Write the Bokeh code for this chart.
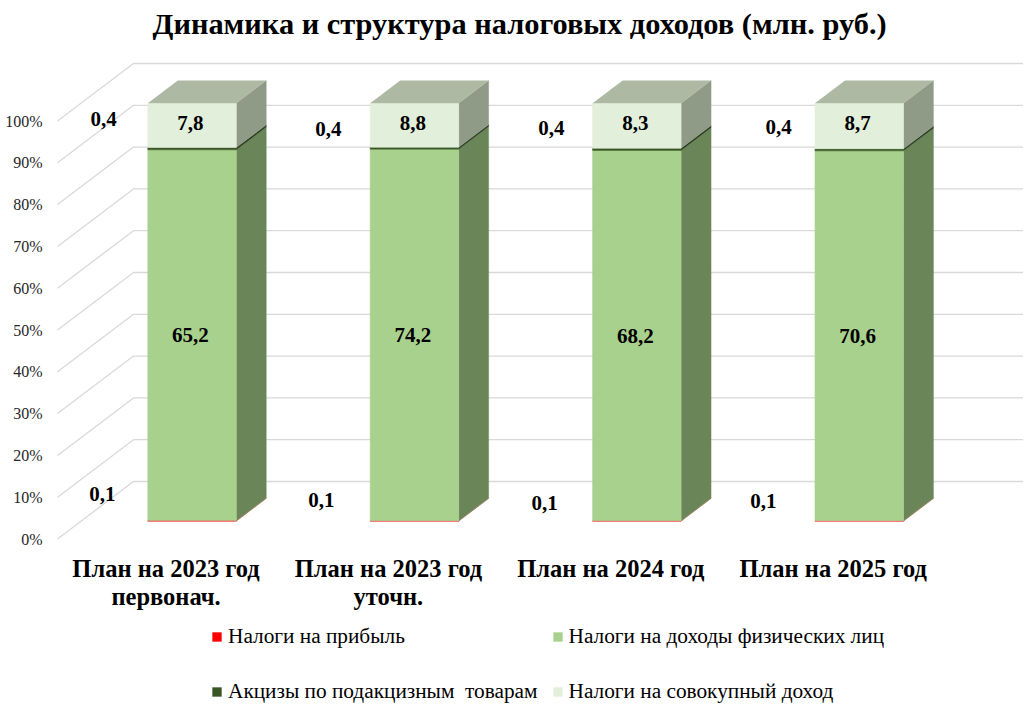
from bokeh.plotting import figure
from bokeh.models import Range1d, FixedTicker, PrintfTickFormatter, Legend, LegendItem, Title
from bokeh.core.properties import value
from bokeh.embed import file_html
from bokeh.resources import INLINE

# ---- data ----
categories = ["План на 2023 год\nпервонач.", "План на 2023 год\nуточн.", "План на 2024 год", "План на 2025 год"]
profit_tax = [0.1, 0.1, 0.1, 0.1]
income_tax = [65.2, 74.2, 68.2, 70.6]
excise = [0.4, 0.4, 0.4, 0.4]
total_income = [7.8, 8.8, 8.3, 8.7]
series_names = ["Налоги на прибыль", "Налоги на доходы физических лиц",
                "Акцизы по подакцизным  товарам", "Налоги на совокупный доход"]
title_text = "Динамика и структура налоговых доходов (млн. руб.)"
y_ticks = [0, 10, 20, 30, 40, 50, 60, 70, 80, 90, 100]

# ---- styles ----
FRONT = ["#FF0000", "#A9D18E", "#385723", "#E2EFDA"]
SIDE = ["#A85A3A", "#6A8659", "#2C4020", "#8F9A87"]
TOP = "#AEB9A4"
GRID = "#D9D9D9"
SERIF = "Liberation Serif"

# ---- scales: slot units horizontally, percent vertically ----
W, H = 1027, 710
PAGE_OFF = 1                    # the figure sits this many pixels above/left of the window
F_L, F_R, F_T, F_B = 48, 1023, 45, 709
X0, SLOT = 57.0, 222.4          # pixel of first floor corner / pixels per category
Y0, PCT = 538.5, 4.18           # pixel of 0 % on front floor edge / pixels per percent
DEPTH_X = 76.0 / SLOT           # wall depth, in slot units
DEPTH_Y = 57.5 / PCT            # wall depth, in percent
BAR_U0, BAR_U1 = 0.30, 0.698    # bar inside its slot (gap 150 %)
BAR_D0, BAR_D1 = 0.31, 0.705    # bar inside the floor depth


def proj(u, d, pct):
    return u + DEPTH_X * d, pct + DEPTH_Y * d


p = figure(width=W, height=H, output_backend="svg", toolbar_location=None,
           frame_width=F_R - F_L, frame_height=F_B - F_T,
           x_range=Range1d((F_L - X0) / SLOT, (F_R - X0) / SLOT),
           y_range=Range1d((Y0 - F_B) / PCT, (Y0 - F_T) / PCT),
           min_border_left=F_L + PAGE_OFF, min_border_right=W - F_R - PAGE_OFF, min_border_top=F_T + PAGE_OFF,
           min_border_bottom=H - F_B - PAGE_OFF, outline_line_color=None,
           background_fill_color="white", border_fill_color="white",
           margin=(-PAGE_OFF, 0, 0, -PAGE_OFF))
p.xgrid.visible = False
p.ygrid.visible = False

p.title = Title(text=title_text, align="left", offset=104, text_font=SERIF,
                text_font_style="bold", text_font_size="30.4px", text_color="#000000",
                standoff=9)

# walls
n = len(categories)
gx, gy = [], []
for t in y_ticks:
    a = proj(0, 0, t)
    b = proj(0, 1, t)
    c = proj(n, 1, t)
    gx.append([a[0], b[0], c[0]])
    gy.append([a[1], b[1], c[1]])
p.multi_line(gx, gy, line_color=GRID, line_width=1.3)

# stacked bars in 100 %
stack = [profit_tax, income_tax, excise, total_income]
totals = [sum(s[i] for s in stack) for i in range(n)]
fronts = []
for k, s in enumerate(stack):
    fx, fy, sx, sy = [], [], [], []
    for i in range(n):
        lo = sum(stack[j][i] for j in range(k)) / totals[i] * 100
        hi = lo + s[i] / totals[i] * 100
        pts = [proj(i + BAR_U0, BAR_D0, lo), proj(i + BAR_U1, BAR_D0, lo),
               proj(i + BAR_U1, BAR_D0, hi), proj(i + BAR_U0, BAR_D0, hi)]
        fx.append([q[0] for q in pts])
        fy.append([q[1] for q in pts])
        pts = [proj(i + BAR_U1, BAR_D0, lo), proj(i + BAR_U1, BAR_D1, lo),
               proj(i + BAR_U1, BAR_D1, hi), proj(i + BAR_U1, BAR_D0, hi)]
        sx.append([q[0] for q in pts])
        sy.append([q[1] for q in pts])
    p.patches(sx, sy, fill_color=SIDE[k], line_color=SIDE[k], line_width=0.3)
    fronts.append(p.patches(fx, fy, fill_color=FRONT[k], line_color=FRONT[k], line_width=0.5))

tx, ty = [], []
for i in range(n):
    pts = [proj(i + BAR_U0, BAR_D0, 100), proj(i + BAR_U1, BAR_D0, 100),
           proj(i + BAR_U1, BAR_D1, 100), proj(i + BAR_U0, BAR_D1, 100)]
    tx.append([q[0] for q in pts])
    ty.append([q[1] for q in pts])
p.patches(tx, ty, fill_color=TOP, line_color=None)


def fmt(v):
    return f"{v:.1f}".replace(".", ",")


# data labels
lab_x, lab_y, lab_t = [], [], []
for i in range(n):
    cu = i + 0.492
    lo_pit = profit_tax[i] / totals[i] * 100
    hi_pit = lo_pit + income_tax[i] / totals[i] * 100
    lo_top = hi_pit + excise[i] / totals[i] * 100
    x, y = proj(cu, BAR_D0, (lo_pit + hi_pit) / 2)
    lab_x.append(x); lab_y.append(y); lab_t.append(fmt(income_tax[i]))
    x, y = proj(cu, BAR_D0, (lo_top + 100) / 2 + 0.6)
    lab_x.append(x); lab_y.append(y); lab_t.append(fmt(total_income[i]))
p.text(lab_x, lab_y, text=lab_t, text_font=value(SERIF), text_font_style="bold",
       text_font_size="21px", text_align="center", text_baseline="middle", text_color="#000000")

# hand-placed small labels (offset from the slot start, in slot units / percent)
small_off_excise = [(0.207, 100.5), (0.218, 98.2), (0.221, 98.4), (0.242, 98.6)]
small_off_profit = [(0.202, 10.8), (0.187, 9.4), (0.190, 8.7), (0.174, 9.2)]
sx_, sy_, st_ = [], [], []
for i in range(n):
    sx_.append(i + small_off_excise[i][0]); sy_.append(small_off_excise[i][1]); st_.append(fmt(excise[i]))
    sx_.append(i + small_off_profit[i][0]); sy_.append(small_off_profit[i][1]); st_.append(fmt(profit_tax[i]))
p.text(sx_, sy_, text=st_, text_font=value(SERIF), text_font_style="bold",
       text_font_size="21px", text_align="center", text_baseline="middle", text_color="#000000")

# axes
ya = p.yaxis[0]
ya.ticker = FixedTicker(ticks=y_ticks)
ya.formatter = PrintfTickFormatter(format="%d%%")
ya.axis_line_color = None
ya.major_tick_line_color = None
ya.minor_tick_line_color = None
ya.major_tick_out = 0
ya.major_tick_in = 0
ya.minor_tick_out = 0
ya.major_label_text_font = SERIF
ya.major_label_text_font_size = "16px"
ya.major_label_text_color = "#262626"
ya.major_label_standoff = 6

xa = p.xaxis[0]
slot_centers = [i + 0.488 for i in range(n)]
xa.ticker = FixedTicker(ticks=slot_centers)
xa.major_label_overrides = {c: t for c, t in zip(slot_centers, categories)}
xa.axis_line_color = None
xa.major_tick_line_color = None
xa.minor_tick_line_color = None
xa.major_tick_out = 0
xa.major_tick_in = 0
xa.minor_tick_out = 0
xa.major_label_text_font = SERIF
xa.major_label_text_font_style = "bold"
xa.major_label_text_font_size = "24.5px"
xa.major_label_text_color = "#000000"
xa.major_label_text_line_height = 1.05
xa.major_label_standoff = -155

# legend: columns fill first, so list the items column by column
legend_items = [LegendItem(label=series_names[k], renderers=[fronts[k]]) for k in (0, 2, 1, 3)]
legend = Legend(items=legend_items, location=(211 - F_L, -3), ncols=2,
                label_text_font=SERIF, label_text_font_size="21.3px", label_text_color="#000000",
                glyph_width=11, glyph_height=11, label_standoff=6, spacing=14,
                label_height=41, padding=0, margin=0, border_line_color=None,
                background_fill_alpha=0)
p.add_layout(legend, "center")

open("out.html", "w").write(file_html(p, INLINE))
